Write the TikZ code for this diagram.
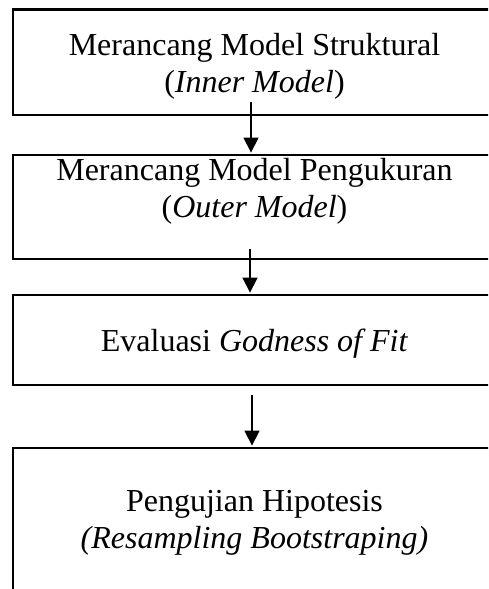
\documentclass[tikz,border=0pt]{standalone}
\usepackage{fontspec}
\setmainfont{Liberation Serif}
\usetikzlibrary{arrows.meta}
\begin{document}
\begin{tikzpicture}[x=1pt,y=1pt,
  box/.style={draw=black,line width=2.8pt,rectangle,inner sep=0pt,minimum width=483pt},
  txt/.style={align=center,font=\fontsize{32pt}{37pt}\selectfont,inner sep=0pt},
  arr/.style={line width=1.4pt,-{Triangle[length=15pt,width=15pt]}}]
\useasboundingbox (0,0) rectangle (488,589);
\clip (0,0) rectangle (488,589);
\node[box,minimum height=105.2pt] (b1) at (254.5,526.6) {};
\node[box,minimum height=104pt] (b2) at (254.5,382) {};
\node[box,minimum height=90pt] (b3) at (254.5,249) {};
\node[box,minimum height=181pt] (b4) at (254.5,50.5) {};
\node[txt] (t1) at (254.5,523) {Merancang Model Struktural\\(\textit{Inner Model})};
\node[txt] (t2) at (254.5,398) {Merancang Model Pengukuran\\(\textit{Outer Model})};
\node[txt,anchor=base] (t3) at (254.5,237) {Evaluasi \textit{Godness of Fit}};
\node[txt] (t4) at (254.5,66) {Pengujian Hipotesis\\\textit{(Resampling Bootstraping)}};
\draw[arr] ([xshift=-3.5pt,yshift=14pt]b1.south) -- ([xshift=-3.5pt,yshift=1pt]b2.north);
\draw[arr] ([xshift=-4.5pt,yshift=11pt]b2.south) -- ([xshift=-4.5pt,yshift=1pt]b3.north);
\draw[arr] ([xshift=-2.5pt,yshift=-9pt]b3.south) -- ([xshift=-2.5pt,yshift=1pt]b4.north);
\end{tikzpicture}
\end{document}
